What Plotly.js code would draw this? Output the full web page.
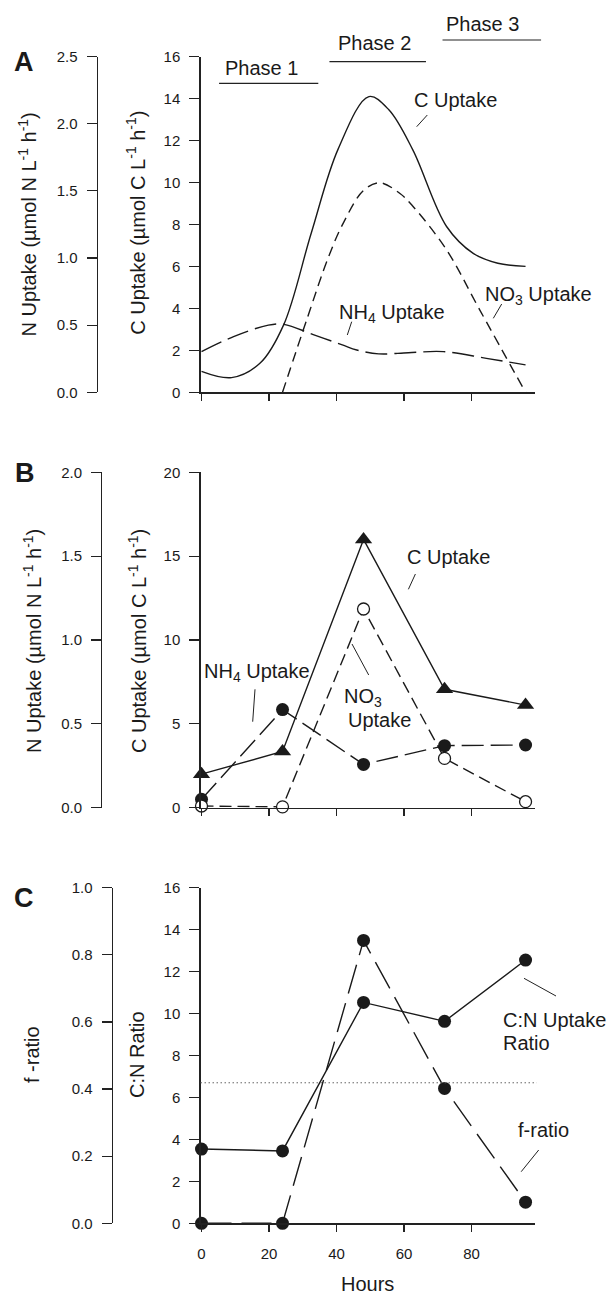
<!DOCTYPE html>
<html>
<head>
<meta charset="utf-8">
<script src="https://cdn.plot.ly/plotly-3.0.1.min.js"></script>
<style>html,body{margin:0;padding:0;background:#fff}#chart{width:611px;height:1297px}</style>
</head>
<body>
<div id="chart"></div>
<script>
// ---------------- DATA ----------------
// Panel A (smoothed curves)
const hoursA_C = [0, 8.9, 17.3, 24.3, 32.5, 40.5, 49.6, 55.5, 62.6, 72.6, 80.5, 87.8, 96];
const cUptakeA = [1.0, 0.70, 1.38, 3.2, 7.58, 11.6, 14.09, 13.46, 11.55, 7.9, 6.62, 6.15, 6.0];
const hoursA_NH4 = [0, 9.5, 19.8, 24.4, 33.1, 41.7, 46, 52.5, 61.3, 71.7, 84.4, 96];
const nh4UptakeA = [0.303, 0.415, 0.50, 0.506, 0.43, 0.353, 0.315, 0.286, 0.295, 0.303, 0.253, 0.204];
const hoursA_NO3 = [24, 31.3, 37.5, 42, 47.9, 52.7, 58.8, 62.8, 72.6, 82.5, 96];
const no3UptakeA = [0, 0.55, 1.0, 1.26, 1.50, 1.56, 1.48, 1.38, 1.06, 0.61, 0];

// Panel B (measured points)
const hoursB = [0, 24, 48, 72, 96];
const cUptakeB = [2.0, 3.35, 16.0, 7.06, 6.12];
const nh4UptakeB = [0.05, 0.585, 0.258, 0.37, 0.374];
const no3UptakeB = [0.01, 0.005, 1.185, 0.294, 0.036];

// Panel C
const hoursC = [0, 24, 48, 72, 96];
const cnRatio = [3.54, 3.45, 10.53, 9.63, 12.55];
const fRatio = [0, 0, 0.843, 0.402, 0.063];
const redfieldCN = 6.7;

// Phases (hours)
const phaseLabels = ['Phase 1', 'Phase 2', 'Phase 3'];
const phaseStart = [5.2, 37.9, 71.4];
const phaseEnd = [34.6, 66.5, 100.6];

// Tick values
const hourTicks = [0, 20, 40, 60, 80];

// ---------------- LAYOUT HELPERS ----------------
const W = 611, H = 1297;
const fx = p => p / W;
const fy = p => 1 - p / H;
const XDOM = [fx(200.5), fx(535)];
const XRANGE = [-0.3, 98.8];
const hx = h => XDOM[0] + (h - XRANGE[0]) / (XRANGE[1] - XRANGE[0]) * (XDOM[1] - XDOM[0]);

const FONT = 'Liberation Sans, Arial, Helvetica, sans-serif';
const INK = '#1a1a1a';
const AX = '#222';

function xAxis(anchor, labels) {
  return {
    domain: XDOM, range: XRANGE, anchor: anchor,
    tickvals: hourTicks, ticks: 'outside', ticklen: 7, tickwidth: 1.2, tickcolor: AX,
    showline: true, linecolor: AX, linewidth: 1.2, showgrid: false, zeroline: false,
    showticklabels: labels, ticklabelstandoff: 9,
    tickfont: {family: FONT, size: 15, color: INK}
  };
}
function yAxis(dom, range, dtick, fmt, extra) {
  return Object.assign({
    domain: dom, range: range, dtick: dtick, tick0: 0, tickformat: fmt,
    ticks: 'outside', ticklen: 10, tickwidth: 1.2, tickcolor: AX,
    showline: true, linecolor: AX, linewidth: 1.2, showgrid: false, zeroline: false,
    ticklabelstandoff: 6,
    tickfont: {family: FONT, size: 15, color: INK}
  }, extra);
}

const domA = [fy(392.3), fy(56.5)];
const domB = [fy(807.7), fy(472.3)];
const domC = [fy(1223.3), fy(887.7)];

// ---------------- TRACES ----------------
const LW = 1.4;
const traces = [
  // Panel A
  {x: hoursA_C, y: cUptakeA, xaxis: 'x', yaxis: 'y', mode: 'lines', name: 'C Uptake',
   line: {color: INK, width: LW, shape: 'spline', smoothing: 1}, cliponaxis: false},
  {x: hoursA_NH4, y: nh4UptakeA, xaxis: 'x', yaxis: 'y2', mode: 'lines', name: 'NH4 Uptake',
   line: {color: INK, width: LW, shape: 'spline', smoothing: 1, dash: '22px,7px'}, cliponaxis: false},
  {x: hoursA_NO3, y: no3UptakeA, xaxis: 'x', yaxis: 'y2', mode: 'lines', name: 'NO3 Uptake',
   line: {color: INK, width: LW, shape: 'spline', smoothing: 1, dash: '10px,6px'}, cliponaxis: false},
  // Panel B
  {x: hoursB, y: cUptakeB, xaxis: 'x2', yaxis: 'y3', mode: 'lines+markers', name: 'C Uptake',
   line: {color: INK, width: LW}, marker: {symbol: 'triangle-up', size: 15, color: INK}, cliponaxis: false},
  {x: hoursB, y: nh4UptakeB, xaxis: 'x2', yaxis: 'y4', mode: 'lines+markers', name: 'NH4 Uptake',
   line: {color: INK, width: LW, dash: '22px,7px'}, marker: {symbol: 'circle', size: 13, color: INK}, cliponaxis: false},
  {x: hoursB, y: no3UptakeB, xaxis: 'x2', yaxis: 'y4', mode: 'lines+markers', name: 'NO3 Uptake',
   line: {color: INK, width: LW, dash: '12px,6px'},
   marker: {symbol: 'circle', size: 12, color: '#fff', line: {color: INK, width: 1.3}}, cliponaxis: false},
  // Panel C
  {x: hoursC, y: cnRatio, xaxis: 'x3', yaxis: 'y5', mode: 'lines+markers', name: 'C:N Uptake Ratio',
   line: {color: INK, width: LW}, marker: {symbol: 'circle', size: 13, color: INK}, cliponaxis: false},
  {x: hoursC, y: fRatio, xaxis: 'x3', yaxis: 'y6', mode: 'lines+markers', name: 'f-ratio',
   line: {color: INK, width: LW, dash: '30px,10px'}, marker: {symbol: 'circle', size: 13, color: INK}, cliponaxis: false}
];

// ---------------- SHAPES ----------------
const shapes = [];
const phaseY = [83.3, 61.7, 40];
phaseLabels.forEach((p, i) => {
  shapes.push({type: 'line', xref: 'paper', yref: 'paper',
    x0: hx(phaseStart[i]), x1: hx(phaseEnd[i]), y0: fy(phaseY[i]), y1: fy(phaseY[i]),
    line: {color: AX, width: 1.2}});
});
// dotted reference line in panel C
shapes.push({type: 'line', xref: 'x3 domain', yref: 'y5', x0: 0, x1: 1.005, y0: redfieldCN, y1: redfieldCN,
  line: {color: '#666', width: 1, dash: '1.5px,2.5px'}});
// leader lines (pixel positions)
const leaders = [
  [427.3, 115, 416.7, 126.7],
  [351.7, 321.7, 347.3, 335],
  [501.7, 304, 493.3, 318.3],
  [415.4, 574, 408.4, 589.3],
  [255, 689.3, 252.7, 721.7],
  [352, 644, 368.7, 675],
  [524, 978.3, 556, 996],
  [538.7, 1150, 521.2, 1171.7]
];
leaders.forEach(l => shapes.push({type: 'line', xref: 'paper', yref: 'paper',
  x0: fx(l[0]), y0: fy(l[1]), x1: fx(l[2]), y1: fy(l[3]), line: {color: AX, width: 1}}));

// ---------------- ANNOTATIONS ----------------
const ann = [];
function txt(text, x, y, size, opts) {
  ann.push(Object.assign({text: text, xref: 'paper', yref: 'paper', x: fx(x), y: fy(y),
    xanchor: 'center', yanchor: 'middle', showarrow: false, borderpad: 0,
    font: {family: FONT, size: size, color: INK}}, opts || {}));
}
// panel letters
txt('<b>A</b>', 23.5, 61.7, 27);
txt('<b>B</b>', 24.5, 472.8, 27);
txt('<b>C</b>', 23.7, 898.3, 27);
// phase labels
const phaseLabelPos = [[261.7, 68], [374, 43], [482.3, 24.2]];
phaseLabels.forEach((p, i) => txt(p, phaseLabelPos[i][0], phaseLabelPos[i][1], 20));
// y axis titles
const nTitle = 'N Uptake (µmol N L<sup>-1</sup> h<sup>-1</sup>)';
const cTitle = 'C Uptake (µmol C L<sup>-1</sup> h<sup>-1</sup>)';
txt(nTitle, 27.3, 224.2, 20, {textangle: -90});
txt(cTitle, 136, 222.8, 20, {textangle: -90});
txt(nTitle, 32, 641, 20, {textangle: -90});
txt(cTitle, 137, 641, 20, {textangle: -90});
txt('f -ratio', 32, 1055, 20, {textangle: -90});
txt('C:N Ratio', 137, 1055, 20, {textangle: -90});
// x axis title
txt('Hours', 367.7, 1296, 20, {yanchor: 'bottom'});
// series labels
txt('C Uptake', 455.5, 100, 20);
txt('NH<sub>4</sub> Uptake', 391.7, 313, 20);
txt('NO<sub>3</sub> Uptake', 538.3, 295.3, 20);
txt('C Uptake', 448.7, 556.7, 20);
txt('NH<sub>4</sub> Uptake', 256.6, 673, 20);
txt('NO<sub>3</sub>', 343, 697, 20, {xanchor: 'left'});
txt('Uptake', 347.3, 720, 20, {xanchor: 'left'});
txt('C:N Uptake', 502, 1019.7, 20, {xanchor: 'left'});
txt('Ratio', 502, 1042.5, 20, {xanchor: 'left'});
txt('f-ratio', 543, 1130, 20);

const layout = {
  width: W, height: H,
  margin: {l: 0, r: 0, t: 0, b: 0, pad: 0},
  paper_bgcolor: '#fff', plot_bgcolor: 'rgba(0,0,0,0)',
  showlegend: false,
  font: {family: FONT, color: INK},
  xaxis: xAxis('y', false),
  xaxis2: xAxis('y3', false),
  xaxis3: xAxis('y5', true),
  yaxis: yAxis(domA, [0, 16], 2, 'd', {anchor: 'x'}),
  yaxis2: yAxis(domA, [0, 2.5], 0.5, '.1f', {overlaying: 'y', anchor: 'free', position: fx(96.5), side: 'left'}),
  yaxis3: yAxis(domB, [0, 20], 5, 'd', {anchor: 'x2'}),
  yaxis4: yAxis(domB, [0, 2], 0.5, '.1f', {overlaying: 'y3', anchor: 'free', position: fx(101), side: 'left'}),
  yaxis5: yAxis(domC, [0, 16], 2, 'd', {anchor: 'x3'}),
  yaxis6: yAxis(domC, [0, 1], 0.2, '.1f', {overlaying: 'y5', anchor: 'free', position: fx(111.6), side: 'left'}),
  shapes: shapes,
  annotations: ann
};

Plotly.newPlot('chart', traces, layout, {displayModeBar: false, staticPlot: true});
</script>
</body>
</html>
